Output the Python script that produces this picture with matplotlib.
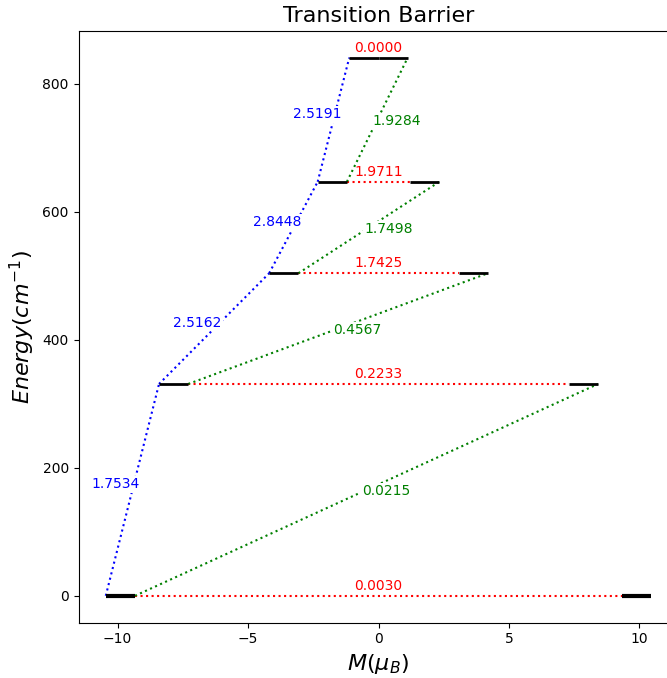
import matplotlib
matplotlib.use("Agg")
import matplotlib.pyplot as plt

# Data
energies = [0.0, 331.0, 504.0, 647.0, 841.0]      # cm^-1
moments = [9.89, 7.85, 3.63, 1.77, 0.56]          # M (mu_B), level centre
qtm_labels = ['0.0030', '0.2233', '1.7425', '1.9711', '0.0000']
orbach_labels = ['1.7534', '2.5162', '2.8448', '2.5191']
raman_labels = ['0.0215', '0.4567', '1.7498', '1.9284']

half = 0.56

fig = plt.figure(figsize=(6.67, 6.78), dpi=100)
ax = fig.add_axes([78.5/667, 55.3/678, 600/667, 592/678])

n = len(energies)
for i in range(n):
    E = energies[i]
    m = moments[i]
    lw = 3 if i == 0 else 2
    # left & right bars
    ax.plot([-m - half, -m + half], [E, E], color='black', lw=lw, zorder=3, solid_capstyle='butt')
    ax.plot([m - half, m + half], [E, E], color='black', lw=lw, zorder=3, solid_capstyle='butt')
    # red QTM line
    ax.plot([-m + half, m - half], [E, E], color='red', ls=':', lw=1.5, zorder=2)
    ax.annotate(qtm_labels[i], xy=(0, E), xytext=(0, 2), textcoords='offset points',
                ha='center', va='bottom', color='red', fontsize=10, zorder=4)

for i in range(n - 1):
    E0, E1 = energies[i], energies[i + 1]
    m0, m1 = moments[i], moments[i + 1]
    # blue: outer left end to outer left end
    x0, x1 = -m0 - half, -m1 - half
    ax.plot([x0, x1], [E0, E1], color='blue', ls=':', lw=1.5, zorder=2)
    ax.annotate(orbach_labels[i], xy=((x0 + x1) / 2, (E0 + E1) / 2), xytext=(-12, 4),
                textcoords='offset points', ha='center', va='center', color='blue',
                fontsize=10, zorder=4,
                bbox=dict(facecolor='white', edgecolor='none', pad=1))
    # green: inner end of left bar to outer end of right bar on next level
    gx0, gx1 = -m0 + half, m1 + half
    ax.plot([gx0, gx1], [E0, E1], color='green', ls=':', lw=1.5, zorder=2)
    ax.annotate(raman_labels[i], xy=((gx0 + gx1) / 2, (E0 + E1) / 2), xytext=(14, -1),
                textcoords='offset points', ha='center', va='center', color='green',
                fontsize=10, zorder=4,
                bbox=dict(facecolor='white', edgecolor='none', pad=1))

ax.set_title('Transition Barrier', fontsize=16)
ax.set_xlabel(r'$M(\mu_B)$', fontsize=16)
ax.set_ylabel(r'$Energy(cm^{-1})$', fontsize=16)
ax.set_yticks([0, 200, 400, 600, 800])

fig.savefig('out.png', dpi=100)
